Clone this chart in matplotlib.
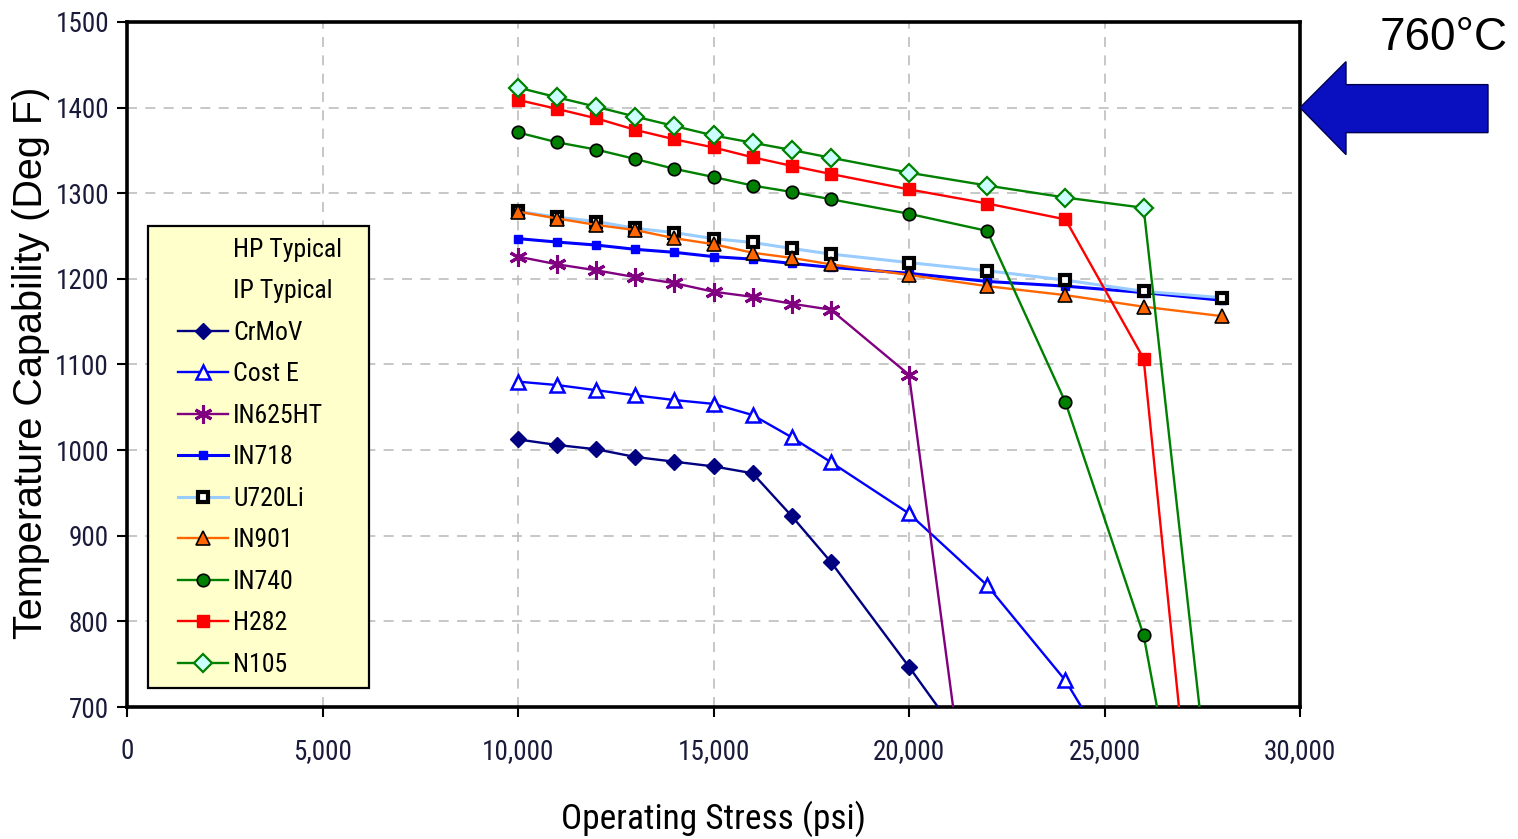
import matplotlib
matplotlib.use('Agg')
import matplotlib.pyplot as plt
from matplotlib import font_manager
from matplotlib.patches import Polygon, Rectangle
from matplotlib.transforms import IdentityTransform
from matplotlib.ticker import FuncFormatter
from matplotlib.lines import Line2D

# ---------- pick a narrow font if one exists ----------
entries = font_manager.fontManager.ttflist
names = {f.name for f in entries}
NARROW = None
for cand in ['Liberation Sans Narrow', 'Arial Narrow', 'Roboto Condensed',
             'Open Sans Condensed', 'Noto Sans Condensed', 'DejaVu Sans Condensed']:
    if cand in names:
        NARROW = cand
        break
STRETCH = 'normal'
if NARROW is None:
    for f in entries:
        if f.stretch in ('condensed', 'semi-condensed') and f.style == 'normal' \
                and f.weight in (400, 'normal', 'regular') and 'Sans' in f.name:
            NARROW = f.name
            STRETCH = 'condensed'
            break
if NARROW is None:
    NARROW = 'Liberation Sans'
plt.rcParams['font.stretch'] = STRETCH
REG = 'Liberation Sans'

# ---------------- data ----------------
x_short = [10000, 11000, 12000, 13000, 14000, 15000, 16000, 17000, 18000, 20000, 22000]
x_mid = [10000, 11000, 12000, 13000, 14000, 15000, 16000, 17000, 18000, 20000, 22000, 24000, 26000]
x_full = [10000, 11000, 12000, 13000, 14000, 15000, 16000, 17000, 18000, 20000, 22000, 24000, 26000, 28000]

crmov = [1012.5, 1006, 1001, 992, 986.5, 981, 973, 923, 869.5, 747, 620]
cost_e = [1080, 1076, 1070, 1064, 1058.5, 1054, 1041, 1015, 986, 926, 842, 731, 580]
in625ht = [1226, 1217, 1210, 1202, 1195, 1185, 1179, 1171, 1164, 1088, 400]
in718 = [1247, 1243, 1239.5, 1234.5, 1231, 1226, 1223, 1218, 1213.5, 1206.5, 1197, 1191.5, 1184, 1175]
u720li = [1279, 1272, 1267, 1259, 1254, 1247, 1242.5, 1235.5, 1229, 1219, 1209.5, 1198.5, 1185.5, 1178]
in901 = [1278.5, 1270.5, 1263, 1257, 1247.5, 1240.5, 1230.5, 1224.5, 1217, 1204.5, 1191.5, 1181, 1167.5, 1156.5]
in740 = [1371, 1359.5, 1351, 1340, 1328.5, 1319, 1309, 1301.5, 1293, 1276, 1256, 1056, 784, 294]
h282 = [1409, 1398.5, 1387.5, 1374, 1363, 1353.5, 1342, 1332, 1322.5, 1304.5, 1288, 1269.5, 1107, 207]
n105 = [1423.5, 1412, 1401, 1389.5, 1378.5, 1367.5, 1359, 1350.5, 1341.5, 1324, 1309, 1295, 1283, 467]

series_labels = ['CrMoV', 'Cost E', 'IN625HT', 'IN718', 'U720Li', 'IN901', 'IN740', 'H282', 'N105']
series_x = [x_short, x_mid, x_short, x_full, x_full, x_full, x_full, x_full, x_full]
series_y = [crmov, cost_e, in625ht, in718, u720li, in901, in740, h282, n105]
extra_labels = ['HP Typical', 'IP Typical']

x_ticks = [0, 5000, 10000, 15000, 20000, 25000, 30000]
y_ticks = [700, 800, 900, 1000, 1100, 1200, 1300, 1400, 1500]
annot_text = '760°C'
annot_point = (30000, 1400)

# ---------------- styles ----------------
styles = [
    dict(color='#000080', marker='D', ms=8, mfc='#000080', mec='#000080', mew=1),
    dict(color='#0000FF', marker='^', ms=10, mfc='white', mec='#0000FF', mew=1.8),
    dict(color='#800080', marker=(6, 2, 0), ms=13, mfc='#800080', mec='#800080', mew=2.2),
    dict(color='#0000FF', marker='s', ms=6, mfc='#0000FF', mec='#0000FF', mew=1, lw=2.2),
    dict(color='#99CCFF', marker='s', ms=7, mfc='white', mec='black', mew=3, lw=2.2),
    dict(color='#FF6600', marker='^', ms=10, mfc='#FF6600', mec='black', mew=1.2),
    dict(color='#008000', marker='o', ms=9, mfc='#008000', mec='black', mew=1.2),
    dict(color='#FF0000', marker='s', ms=9, mfc='#FF0000', mec='#FF0000', mew=1),
    dict(color='#008000', marker='D', ms=9, mfc='#CCFFFF', mec='#008000', mew=1.6),
]

W, H = 1518, 839
fig = plt.figure(figsize=(W / 100, H / 100), dpi=100)
ax = fig.add_axes([127 / W, (H - 707) / H, 1173 / W, 685 / H])

for lab, xs, ys, st in zip(series_labels, series_x, series_y, styles):
    lw = st.pop('lw', 1.7)
    ax.plot(xs, ys, label=lab, linewidth=lw, zorder=3, **st)

ax.set_xlim(0, 30000)
ax.set_ylim(700, 1500)
ax.set_xticks(x_ticks)
ax.set_yticks(y_ticks)
ax.xaxis.set_major_formatter(FuncFormatter(lambda v, p: f'{int(v):,}'))
ax.grid(True, linestyle=(0, (6, 5)), color='#BDBDBD', linewidth=1.2)
ax.set_axisbelow(True)
for s in ax.spines.values():
    s.set_linewidth(2.6)
    s.set_color('black')
ax.tick_params(axis='both', direction='out', length=7, width=1.5, color='black',
               labelsize=19.5, labelfontfamily=NARROW, labelcolor='#1a1a3a')
ax.tick_params(axis='x', pad=15)
ax.tick_params(axis='y', pad=6)

ax.set_xlabel('Operating Stress (psi)', fontfamily=NARROW, fontsize=25.5, labelpad=26)
fig.text(31 / W, 1 - 363 / H, 'Temperature Capability (Deg F)', fontfamily=REG,
         fontsize=28.5, rotation=90, ha='center', va='center', color='black')

# legend box + legend
box = Rectangle((148 / W, 1 - 688 / H), (369 - 148) / W, (688 - 226) / H,
                transform=fig.transFigure, facecolor='#FFFFCC', edgecolor='black',
                linewidth=1.6, clip_on=False, zorder=4)
ax.add_patch(box)
handles, labels = ax.get_legend_handles_labels()
blank = [Line2D([], [], linestyle='none', marker=None) for _ in extra_labels]
leg = ax.legend(blank + handles, extra_labels + labels, loc='upper left',
                bbox_to_anchor=(178 / W, 1 - 238 / H), bbox_transform=fig.transFigure,
                borderaxespad=0, borderpad=0, prop={'family': NARROW, 'size': 18.5},
                numpoints=1, handlelength=1.95, handletextpad=0.2,
                labelspacing=0.68, frameon=False)
leg.set_zorder(5)

# arrow annotation
fig.canvas.draw()
tx, ty = ax.transData.transform(annot_point)
offs = [(0, 0), (46, 46), (46, 23), (188, 23), (188, -25), (46, -25), (46, -47)]
poly = Polygon([(tx + dx, ty + dy) for dx, dy in offs], closed=True,
               facecolor='#0A10C0', edgecolor='#000050', linewidth=1.0,
               transform=IdentityTransform(), clip_on=False, zorder=10)
fig.add_artist(poly)
fig.text(1444 / W, 1 - 38 / H, annot_text, fontfamily=REG, fontsize=33,
         ha='center', va='center', color='black')

fig.savefig('out.png', dpi=100)
